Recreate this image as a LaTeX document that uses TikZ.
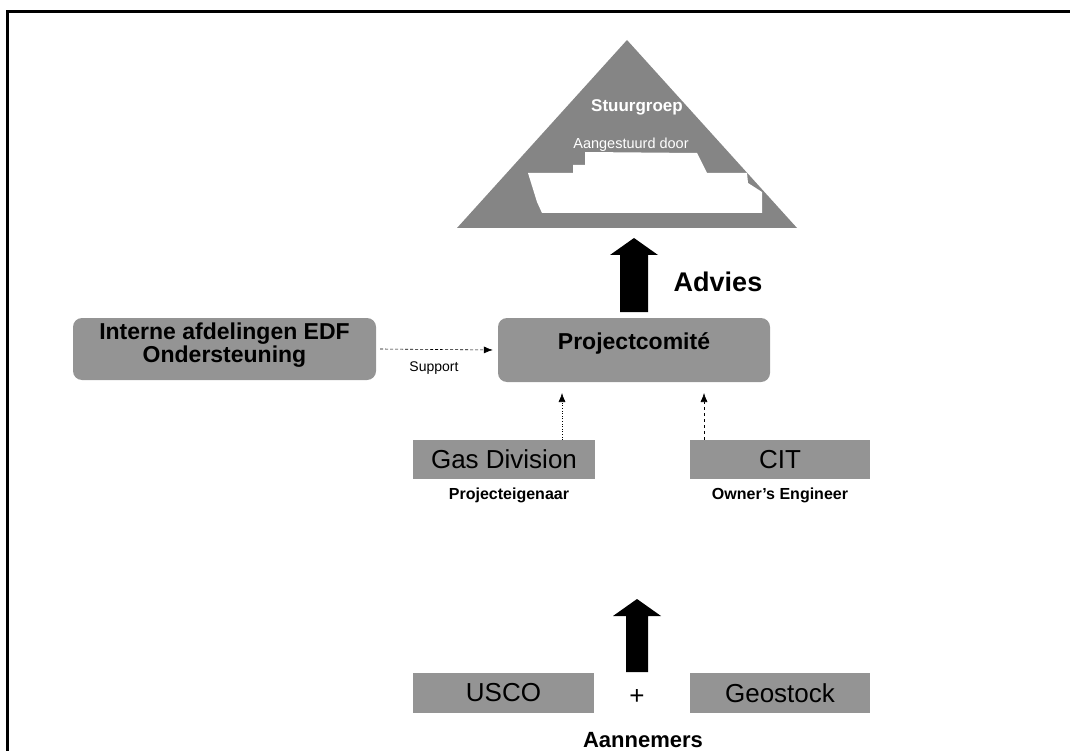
\documentclass[tikz,border=0pt]{standalone}
\usepackage{fontspec}
\setmainfont{Liberation Sans}
\usetikzlibrary{arrows.meta,backgrounds}
\definecolor{boxgray}{gray}{0.58}
\definecolor{trigray}{gray}{0.52}
\newcommand{\fsz}[1]{\fontsize{#1}{#1}\selectfont}
% x, apex y, bottom y, half shaft width
\newcommand{\blockarrow}[4]{\fill (#1-#4,#3) -- (#1-#4,#2+17) -- (#1-24,#2+17) -- (#1,#2) -- (#1+24,#2+17) -- (#1+#4,#2+17) -- (#1+#4,#3) -- cycle;}

\begin{document}
\begin{tikzpicture}[x=1pt,y=-1pt,
    rbox/.style={fill=boxgray,rounded corners=9pt,inner sep=0pt,align=center,font=\bfseries\fsz{23}},
    sbox/.style={fill=boxgray,inner sep=0pt,font=\fsz{26}},
    conn/.style={line width=0.6pt,-{Latex[length=9pt,width=7pt]}}]
    \useasboundingbox (0,0) rectangle (1070,751);
    \draw[line width=3pt] (7,751) -- (7,12) -- (1070,12);

    % Stuurgroep
    \fill[trigray] (627,40) -- (457,228) -- (797,228) -- cycle;
    \fill[white] (585,152) -- (697,153) -- (707,173) -- (747,173) -- (748,183) -- (762,192) -- (762,213)
        -- (542,213) -- (537,202) -- (528,173) -- (573,173) -- (573,165) -- (585,165) -- cycle;
    \node[text=white,font=\bfseries\fsz{17}] (stuur) at (637,107) {Stuurgroep};
    \node[text=white,font=\fsz{14.5}] (door) at (631,145) {Aangestuurd door};

    \node[rbox,minimum width=303,minimum height=62,text depth=12pt] (interne) at (224.5,349) {Interne afdelingen EDF\\Ondersteuning};
    \node[rbox,minimum width=272,minimum height=64,text depth=18pt] (pc) at (634,350) {Projectcomité};

    \node[sbox,minimum width=182,minimum height=39] (gas) at (504,459.5) {Gas Division};
    \node[sbox,minimum width=180,minimum height=39] (cit) at (780,459.5) {CIT};
    \node[font=\bfseries\fsz{16}] (gaslbl) at (509,495) {Projecteigenaar};
    \node[font=\bfseries\fsz{16}] (citlbl) at (780,495) {Owner's Engineer};

    \node[sbox,minimum width=181,minimum height=40] (usco) at (503.5,693) {USCO};
    \node[sbox,minimum width=180,minimum height=40] (geo) at (780,693) {Geostock};
    \node[font=\fsz{26}] (plus) at (637,697) {+};
    \node[font=\bfseries\fsz{22}] (aann) at (643,740) {Aannemers};

    % arrows
    \blockarrow{634}{238}{312}{14}
    \node[font=\bfseries\fsz{27}] (advies) at (718,282) {Advies};
    \blockarrow{637}{599}{672}{11}

    \draw[conn,densely dashed] ([xshift=4pt]interne.east) -- ([xshift=-5pt]pc.west);
    \node[font=\fsz{14}] (support) at (434,368) {Support};
    \coordinate (gastip) at (562,393);
    \coordinate (cittip) at (704,393);
    \draw[conn,dotted] (gastip |- gas.north) -- (gastip);
    \draw[conn,dashed] (cittip |- cit.north) -- (cittip);
\end{tikzpicture}
\end{document}
